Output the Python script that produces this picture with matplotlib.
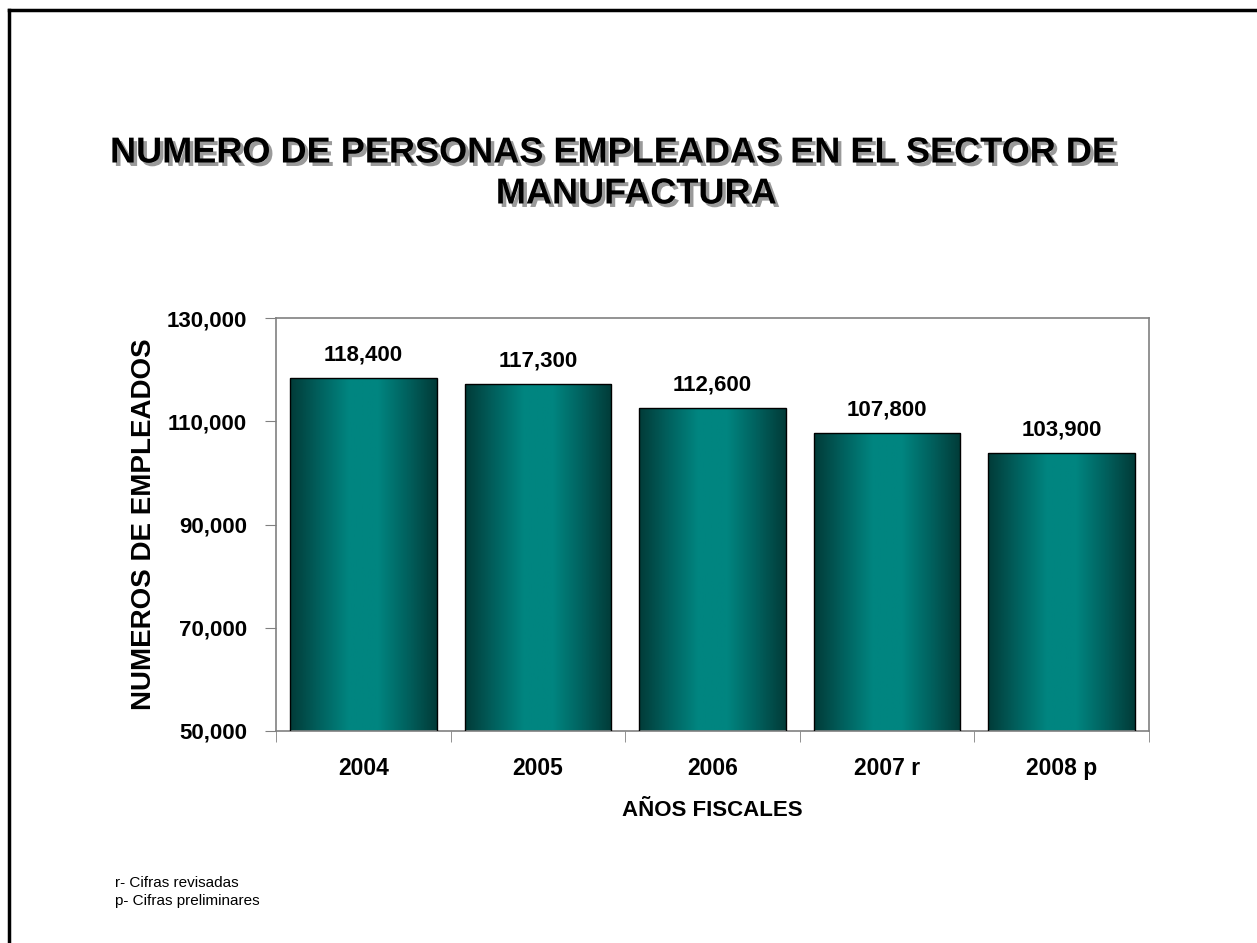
import numpy as np
import matplotlib.pyplot as plt
import matplotlib.patheffects as pe
from matplotlib.colors import LinearSegmentedColormap
from matplotlib.lines import Line2D
from matplotlib.ticker import FuncFormatter, FixedLocator

plt.rcParams['font.family'] = ['Liberation Sans', 'DejaVu Sans']

# datos
years = ['2004', '2005', '2006', '2007 r', '2008 p']
employees = [118400, 117300, 112600, 107800, 103900]
value_labels = ['118,400', '117,300', '112,600', '107,800', '103,900']
y_ticks = [50000, 70000, 90000, 110000, 130000]

fig = plt.figure(figsize=(12.57, 9.43), dpi=100)
ax = fig.add_axes([276 / 1257, 1 - 731 / 943, 873 / 1257, 413 / 943])

# borde de la diapositiva (solo arriba e izquierda)
fig.add_artist(Line2D([8.5 / 1257, 1], [1 - 10 / 943, 1 - 10 / 943],
                      transform=fig.transFigure, color='black', lw=2.5))
fig.add_artist(Line2D([8.5 / 1257, 8.5 / 1257], [0, 1 - 10 / 943],
                      transform=fig.transFigure, color='black', lw=2.5))

# degradado horizontal de las barras
cmap = LinearSegmentedColormap.from_list(
    'teal', ['#013b38', '#01615e', '#008580', '#008580', '#01615e', '#013b38'])
grad = np.linspace(0, 1, 256).reshape(1, -1)

x = np.arange(len(years))
bars = ax.bar(x, employees, width=0.84, color='none', edgecolor='black', lw=1, zorder=3)
for b in bars:
    img = ax.imshow(grad, cmap=cmap, aspect='auto', zorder=2,
                    extent=[b.get_x(), b.get_x() + b.get_width(), 50000, b.get_height()])
    img.set_clip_path(b)

for xi, v, lab in zip(x, employees, value_labels):
    ax.annotate(lab, (xi, v), xytext=(0, 23), textcoords='offset pixels',
                ha='center', va='center', fontsize=16, fontweight='bold')

ax.set_xlim(-0.5, len(years) - 0.5)
ax.set_ylim(50000, 130000)
ax.set_yticks(y_ticks)
ax.yaxis.set_major_formatter(FuncFormatter(lambda v, p: f'{int(v):,}'))
ax.set_xticks(x)
ax.set_xticklabels(years)
ax.xaxis.set_minor_locator(FixedLocator(np.arange(-0.5, len(years), 1)))
ax.tick_params(axis='x', which='major', length=0, pad=19, labelsize=16.5)
ax.tick_params(axis='x', which='minor', length=8, color='#808080', direction='out')
ax.tick_params(axis='y', length=8, color='#808080', labelsize=16, pad=13)
for lab in ax.get_xticklabels() + ax.get_yticklabels():
    lab.set_fontweight('bold')
for s in ax.spines.values():
    s.set_color('#808080')
    s.set_linewidth(1.2)

ax.set_xlabel('AÑOS FISCALES', fontsize=16, fontweight='bold', labelpad=14)
ax.set_ylabel('NUMEROS DE EMPLEADOS', fontsize=20, fontweight='bold', labelpad=7)

shadow = [pe.SimplePatchShadow(offset=(2.5, -2.5), shadow_rgbFace='#9a9a9a', alpha=1), pe.Normal()]
fig.text(612 / 1257, 1 - 153 / 943, 'NUMERO DE PERSONAS EMPLEADAS EN EL SECTOR DE',
         ha='center', va='center', fontsize=26, fontweight='bold', path_effects=shadow)
fig.text(636 / 1257, 1 - 194 / 943, 'MANUFACTURA',
         ha='center', va='center', fontsize=26, fontweight='bold', path_effects=shadow)

fig.text(115 / 1257, 1 - 892 / 943, 'r- Cifras revisadas\np- Cifras preliminares',
         ha='left', va='center', fontsize=11, linespacing=1.3)

fig.savefig('out.png', dpi=100)
